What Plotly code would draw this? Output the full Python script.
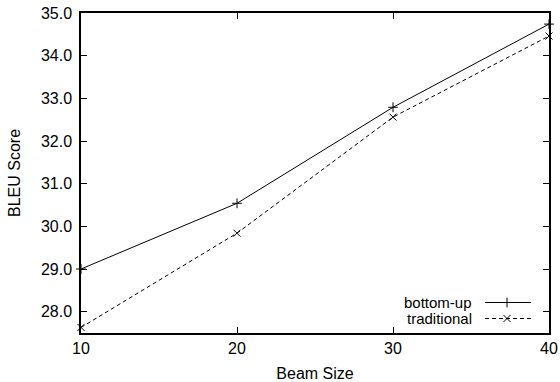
import plotly.graph_objects as go

beam_size = [10, 20, 30, 40]
bottom_up = [29.0, 30.54, 32.79, 34.74]
traditional = [27.63, 29.84, 32.56, 34.46]
y_ticks = [28.0, 29.0, 30.0, 31.0, 32.0, 33.0, 34.0, 35.0]
x_ticks = [10, 20, 30, 40]

FONT = "Liberation Sans, Arial, sans-serif"
FS = 16

fig = go.Figure()
fig.add_trace(go.Scatter(
    x=beam_size, y=bottom_up, mode="lines+markers", name="bottom-up",
    line=dict(color="black", width=1),
    marker=dict(symbol="cross-thin", size=7, line=dict(color="black", width=1)),
    showlegend=False, cliponaxis=False))
fig.add_trace(go.Scatter(
    x=beam_size, y=traditional, mode="lines+markers", name="traditional",
    line=dict(color="black", width=1, dash="4px,3px"),
    marker=dict(symbol="x-thin", size=7, line=dict(color="black", width=1)),
    showlegend=False, cliponaxis=False))

# manual legend (text left of sample, gnuplot style) on an overlay pixel axis
leg_names = ["bottom-up", "traditional"]
leg_y = [289.5, 305.5]
leg_dash = ["solid", "4px,3px"]
leg_sym = ["cross-thin", "x-thin"]
for name, yy, dsh, sym in zip(leg_names, leg_y, leg_dash, leg_sym):
    fig.add_trace(go.Scatter(
        x=[404, 426, 450], y=[yy, yy, yy], xaxis="x2", yaxis="y2",
        mode="lines", line=dict(color="black", width=1, dash=dsh),
        showlegend=False, hoverinfo="skip"))
    fig.add_trace(go.Scatter(
        x=[426], y=[yy], xaxis="x2", yaxis="y2", mode="markers",
        marker=dict(symbol=sym, size=7, line=dict(color="black", width=1)),
        showlegend=False, hoverinfo="skip"))
    fig.add_annotation(x=393, y=yy, xref="x2", yref="y2", text=name,
                       showarrow=False, xanchor="right", yanchor="middle",
                       font=dict(family=FONT, size=15, color="black"))

axis_common = dict(showline=True, linecolor="black", linewidth=1.5, mirror="ticks",
                   ticks="inside", ticklen=6, tickwidth=1.2, tickcolor="black",
                   showgrid=False, zeroline=False, ticklabeloverflow="allow",
                   tickfont=dict(family=FONT, size=FS, color="black"))

fig.update_layout(
    width=560, height=382,
    margin=dict(l=81, r=11, t=13, b=49),
    paper_bgcolor="white", plot_bgcolor="white",
    font=dict(family=FONT, size=FS, color="black"),
    xaxis=dict(range=[10, 40], tickvals=x_ticks, ticklabelstandoff=0,
               title=dict(text="Beam Size", font=dict(family=FONT, size=FS), standoff=14),
               automargin=False, **axis_common),
    yaxis=dict(range=[27.5, 35.0], tickvals=y_ticks, tickformat=".1f", ticklabelstandoff=4,
               title=dict(text="BLEU Score", font=dict(family=FONT, size=FS), standoff=16),
               automargin=False, **axis_common),
    xaxis2=dict(range=[0, 468], overlaying="x", visible=False, anchor="y2"),
    yaxis2=dict(range=[320, 0], overlaying="y", visible=False, anchor="x2"),
)

# remove the default 8px body margin so the 560x382 figure fills the window exactly
fig.write_html("out.html", config={"displayModeBar": False},
               post_script="document.body.style.margin='0';document.body.style.overflow='hidden';")
